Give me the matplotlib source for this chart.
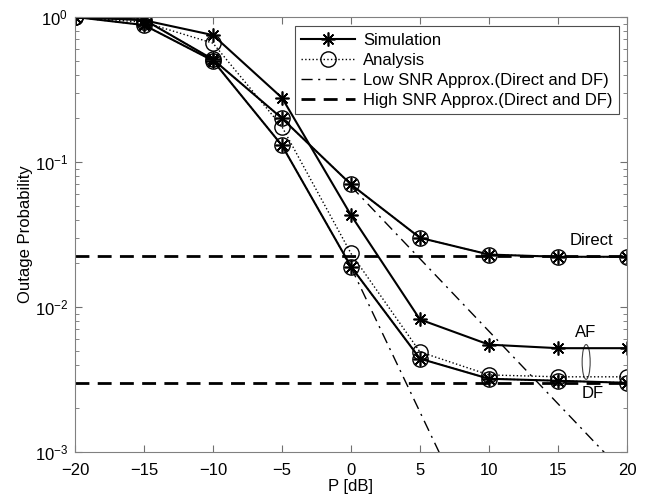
import matplotlib.pyplot as plt
from matplotlib.patches import Ellipse
from matplotlib.ticker import LogLocator, NullFormatter

plt.rcParams['font.family'] = ['Liberation Sans', 'DejaVu Sans']
plt.rcParams['mathtext.fontset'] = 'custom'
plt.rcParams['mathtext.rm'] = 'Liberation Sans'
plt.rcParams['mathtext.it'] = 'Liberation Sans:italic'

# data
P = [-20, -15, -10, -5, 0, 5, 10, 15, 20]
direct_sim = [1.0, 0.96, 0.51, 0.20, 0.070, 0.030, 0.023, 0.0222, 0.0222]
direct_ana = [1.0, 0.96, 0.51, 0.20, 0.070, 0.030, 0.023, 0.0222, 0.0222]
af_sim = [1.0, 0.95, 0.75, 0.277, 0.043, 0.0082, 0.0055, 0.0052, 0.0052]
af_ana = [1.0, 0.92, 0.66, 0.175, 0.0234, 0.0049, 0.0034, 0.0033, 0.0033]
df_sim = [1.0, 0.88, 0.50, 0.13, 0.019, 0.0044, 0.0032, 0.0031, 0.0030]
df_ana = [1.0, 0.88, 0.50, 0.13, 0.019, 0.0044, 0.0032, 0.0031, 0.0030]

P_low = [0, 20]
direct_low = [0.068, 6.8e-4]
df_low = [0.0188, 1.9e-6]

P_high = [-20, 20]
direct_high = [0.0223, 0.0223]
df_high = [0.0030, 0.0030]

fig = plt.figure(figsize=(6.56, 5.0), dpi=100)
ax = fig.add_axes([0.1143, 0.096, 0.8415, 0.870])

star = dict(color='k', lw=1.5, marker=(8, 2, 0), ms=10, mew=1.2)
circ = dict(color='k', lw=1.0, ls=':', marker='o', ms=11, mfc='none', mew=1.0)

ax.plot(P, direct_sim, label='Simulation', **star)
ax.plot(P, direct_ana, label='Analysis', **circ)
ax.plot(P, af_sim, **star)
ax.plot(P, af_ana, **circ)
ax.plot(P, df_sim, **star)
ax.plot(P, df_ana, **circ)

ax.plot(P_low, direct_low, color='k', lw=1.0, ls=(0, (8, 4, 1.5, 4)),
        label='Low SNR Approx.(Direct and DF)')
ax.plot(P_low, df_low, color='k', lw=1.0, ls=(0, (8, 4, 1.5, 4)))
ax.plot(P_high, direct_high, color='k', lw=2.0, ls=(0, (5, 3)),
        label='High SNR Approx.(Direct and DF)')
ax.plot(P_high, df_high, color='k', lw=2.0, ls=(0, (5, 3)))

ax.set_yscale('log')
ax.set_xlim(-20, 20)
ax.set_ylim(1e-3, 1)
ax.set_xticks(range(-20, 21, 5))
ax.yaxis.set_major_locator(LogLocator(base=10, numticks=10))
ax.yaxis.set_minor_locator(LogLocator(base=10, subs=range(2, 10), numticks=10))
ax.yaxis.set_minor_formatter(NullFormatter())
ax.tick_params(which='both', direction='in', top=True, right=True, labelsize=12,
               color='#707070')
ax.tick_params(which='major', length=5)
ax.tick_params(which='minor', length=3)
ax.tick_params(axis='x', pad=8)
ax.tick_params(axis='y', pad=5)
for s in ax.spines.values():
    s.set_color('#808080')

ax.set_xlabel('P [dB]', fontsize=12, labelpad=1)
ax.set_ylabel('Outage Probability', fontsize=12, labelpad=1)

ax.text(17.4, 0.0287, 'Direct', fontsize=12, ha='center', va='center')
ax.text(17.0, 0.0067, 'AF', fontsize=12, ha='center', va='center')
ax.text(17.5, 0.00254, 'DF', fontsize=12, ha='center', va='center')
ax.add_patch(Ellipse((0.926, 0.207), 0.0145, 0.080, transform=ax.transAxes,
                     fill=False, lw=0.8, color='#444444'))

leg = ax.legend(loc='upper right', fontsize=12, frameon=True, fancybox=False,
                edgecolor='#222222', handlelength=3.2, borderpad=0.4,
                labelspacing=0.3, handletextpad=0.5, borderaxespad=0,
                bbox_to_anchor=(0.9855, 0.979))
leg.get_frame().set_linewidth(0.8)

fig.savefig('out.png', dpi=100)
